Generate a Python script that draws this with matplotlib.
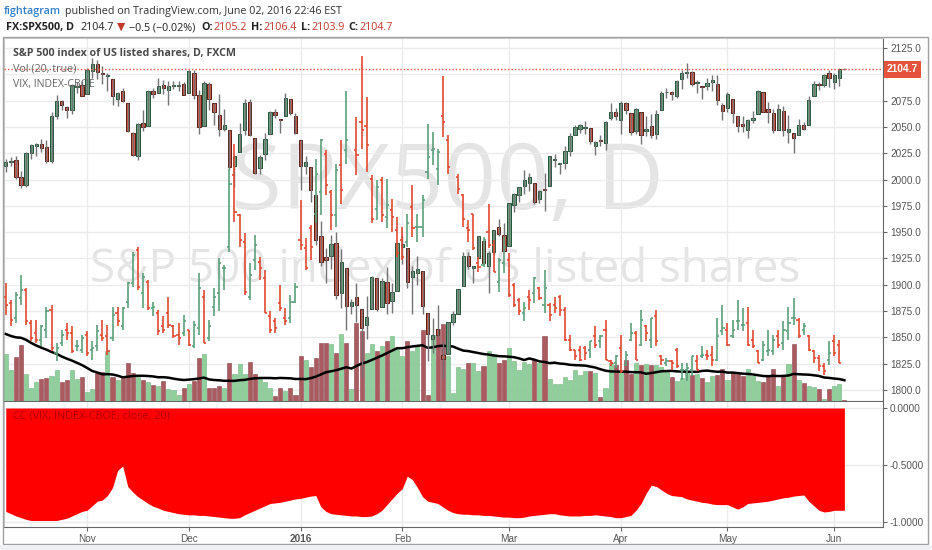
import numpy as np
import pandas as pd
import matplotlib
matplotlib.use('Agg')
import matplotlib.pyplot as plt
from matplotlib.patches import Rectangle
from matplotlib.ticker import FuncFormatter

plt.rcParams['font.family'] = ['Open Sans', 'DejaVu Sans']

nan = float('nan')

# FXCM daily bars: Jan 18 and Feb 15 trade on FXCM, last bar is the live Jun 3 session
holidays = ['2015-11-26', '2015-12-25', '2016-01-01', '2016-03-25', '2016-05-30']
dates = pd.bdate_range('2015-10-09', '2016-06-03').drop(pd.to_datetime(holidays))

spx_open = [
    2013, 2017, 2019, 2002, 1995, 2025, 2032, 2034, 2031, 2018, 2060, 2075, 2069, 2066, 2088, 2090,
    2081, 2103, 2110, 2101, 2098, 2096, 2077, 2084, 2073, 2044, 2022, 2054, 2051, 2084, 2082, 2090, 2085, 2089, 2089, 2091,
    2082, 2101, 2080, 2051, 2091, 2073, 2061, 2048, 2047, 2013, 2026, 2047, 2074, 2040, 2011, 2024, 2043, 2064, 2058, 2060, 2077, 2060,
    2038, 2013, 2012, 1985, 1946, 1926, 1927, 1940, 1892, 1916, 1880, 1888, 1877, 1862, 1877, 1906, 1879, 1903, 1885, 1894,
    1936, 1935, 1907, 1911, 1913, 1873, 1848, 1858, 1833, 1834, 1865, 1872, 1899, 1927, 1916, 1925, 1942, 1918, 1931, 1955, 1947,
    1937, 1976, 1985, 1994, 1997, 1997, 1982, 1991, 1994, 2019, 2015, 2016, 2027, 2042, 2048, 2049, 2049, 2032, 2038, 2035, 2059, 2064,
    2057, 2073, 2063, 2046, 2064, 2046, 2051, 2043, 2066, 2083, 2083, 2079, 2096, 2101, 2102, 2092, 2089, 2089, 2093, 2091, 2071,
    2068, 2077, 2060, 2053, 2047, 2057, 2062, 2083, 2067, 2063, 2047, 2065, 2045, 2044, 2042, 2052, 2052, 2079, 2091, 2090, 2101,
    2093, 2097, 2105.2]
spx_high = [
    2020, 2021, 2022, 2008, 2026, 2034, 2035, 2039, 2038, 2064, 2080, 2076, 2070, 2091, 2093, 2094,
    2106, 2116, 2114, 2108, 2101, 2096, 2083, 2087, 2073, 2045, 2054, 2066, 2085, 2087, 2097, 2095, 2094, 2094, 2094, 2093,
    2104, 2104, 2085, 2094, 2093, 2073, 2081, 2067, 2047, 2022, 2054, 2077, 2077, 2040, 2023, 2044, 2065, 2067, 2058, 2082, 2077, 2063,
    2038, 2022, 2012, 1985, 1961, 1935, 1947, 1950, 1934, 1916, 1886, 1902, 1877, 1889, 1908, 1906, 1906, 1917, 1902, 1940,
    1947, 1935, 1918, 1927, 1913, 1873, 1868, 1881, 1847, 1865, 1875, 1896, 1931, 1931, 1918, 1946, 1942, 1932, 1952, 1963, 1959,
    1978, 1987, 1993, 2009, 2006, 1997, 1990, 2006, 2022, 2024, 2016, 2032, 2044, 2052, 2053, 2056, 2049, 2037, 2042, 2056, 2073, 2068,
    2075, 2074, 2063, 2068, 2064, 2060, 2062, 2066, 2084, 2087, 2084, 2095, 2104, 2111, 2103, 2095, 2089, 2097, 2099, 2099, 2073,
    2083, 2077, 2060, 2060, 2058, 2065, 2085, 2083, 2074, 2067, 2072, 2070, 2061, 2044, 2058, 2055, 2079, 2094, 2093, 2100, 2104,
    2101, 2106, 2106.4]
spx_low = [
    2007, 2013, 2001, 1992, 1993, 2020, 2022, 2026, 2016, 2016, 2058, 2066, 2059, 2062, 2082, 2079,
    2081, 2097, 2096, 2091, 2084, 2071, 2070, 2074, 2045, 2022, 2019, 2046, 2051, 2078, 2082, 2081, 2071, 2086, 2084, 2080,
    2082, 2077, 2043, 2051, 2066, 2052, 2041, 2046, 2009, 1993, 2026, 2042, 2041, 2005, 2005, 2019, 2043, 2059, 2044, 2060, 2061, 2043,
    1990, 2005, 1979, 1938, 1918, 1902, 1915, 1886, 1878, 1857, 1872, 1865, 1812, 1848, 1877, 1875, 1879, 1872, 1873, 1894,
    1920, 1897, 1872, 1900, 1872, 1828, 1835, 1850, 1810, 1834, 1862, 1872, 1899, 1915, 1902, 1925, 1920, 1892, 1928, 1946, 1932,
    1937, 1969, 1979, 1986, 1989, 1977, 1978, 1970, 1994, 2012, 2005, 2010, 2022, 2042, 2044, 2043, 2034, 2023, 2032, 2028, 2057, 2057,
    2043, 2062, 2042, 2043, 2034, 2041, 2040, 2039, 2066, 2078, 2076, 2078, 2086, 2097, 2089, 2082, 2077, 2085, 2084, 2071, 2057,
    2064, 2054, 2045, 2045, 2040, 2054, 2062, 2064, 2054, 2044, 2047, 2041, 2035, 2025, 2042, 2047, 2052, 2079, 2085, 2088, 2088,
    2086, 2089, 2103.9]
spx_close = [
    2017, 2018, 2002, 1995, 2025, 2033, 2034, 2030, 2018, 2060, 2075, 2071, 2066, 2090, 2089, 2079,
    2104, 2110, 2102, 2100, 2099, 2079, 2082, 2075, 2046, 2023, 2053, 2050, 2084, 2081, 2089, 2087, 2089, 2089, 2090, 2080,
    2103, 2080, 2050, 2092, 2077, 2064, 2048, 2052, 2012, 2022, 2043, 2073, 2042, 2006, 2021, 2039, 2064, 2061, 2057, 2078, 2063, 2044,
    2013, 2017, 1990, 1943, 1922, 1924, 1939, 1890, 1922, 1880, 1884, 1881, 1859, 1869, 1907, 1877, 1904, 1883, 1893, 1940,
    1939, 1903, 1913, 1915, 1880, 1853, 1852, 1852, 1829, 1865, 1872, 1896, 1927, 1918, 1918, 1946, 1921, 1930, 1952, 1948, 1932,
    1978, 1986, 1993, 2000, 2002, 1979, 1989, 1990, 2022, 2020, 2016, 2027, 2041, 2050, 2052, 2050, 2037, 2036, 2037, 2055, 2064, 2060,
    2073, 2066, 2045, 2067, 2042, 2048, 2042, 2062, 2082, 2083, 2081, 2094, 2101, 2102, 2091, 2092, 2088, 2092, 2095, 2076, 2065,
    2081, 2063, 2051, 2051, 2057, 2059, 2084, 2064, 2064, 2047, 2067, 2047, 2048, 2040, 2052, 2048, 2076, 2091, 2090, 2099, 2097,
    2099, 2105.2, 2104.7]

vix_open = [
    17.6, 17.2, 16.3, 17.5, 18.0, 16.0, 15.4, 15.0, 15.6, 16.8, 14.2, 14.8, 15.6, 15.4, 14.6, 14.4,
    15.3, 14.4, 14.6, 15.3, 15.2, 15.1, 16.6, 15.8, 17.3, 18.4, 20.4, 17.8, 18.5, 16.9, 16.6, 15.8, 16.6, 15.8, 15.3, 15.4,
    15.6, 14.6, 15.7, 17.6, 15.1, 17.0, 17.8, 19.3, 20.6, 24.9, 22.5, 20.9, 17.6, 19.8, 19.7, 18.7, 16.4, 16.1, 17.2, 16.3, 16.3, 17.3,
    21.0, 20.5, 21.7, 22.6, 23.9, 26.2, 23.9, 22.5, 25.5, 26.4, nan, 26.4, 28.1, 27.9, 24.7, 22.9, 24.6, 22.4, 22.8, 21.6,
    21.0, 20.9, 23.0, 21.8, 21.8, 25.1, 26.4, 25.3, 28.5, 27.0, nan, 24.8, 23.7, 21.7, 22.6, 19.6, 19.5, 21.5, 20.7, 18.5, 19.6,
    19.8, 18.3, 17.4, 16.6, 17.6, 17.8, 18.1, 17.1, 17.1, 17.1, 17.6, 16.8, 15.0, 14.4, 14.4, 14.5, 14.4, 15.2, 14.9, 15.6, 13.7, 13.6,
    14.5, 13.5, 15.0, 15.4, 14.7, 15.8, 15.0, 16.4, 14.0, 13.6, 13.7, 14.4, 13.2, 13.2, 13.2, 13.7, 14.0, 14.1, 14.1, 13.8, 15.5,
    15.6, 15.2, 16.1, 15.9, 16.0, 15.0, 14.3, 13.8, 14.3, 14.3, 15.2, 14.8, 15.5, 16.3, 16.2, 15.6, 15.2, 14.3, 13.9, 13.4, 13.8,
    14.9, 14.7, nan]
vix_high = [
    18.4, 17.4, 17.9, 18.9, 18.1, 16.2, 16.2, 15.9, 17.0, 17.1, 14.8, 15.6, 16.0, 15.8, 15.0, 15.3,
    15.5, 14.9, 15.9, 16.2, 15.9, 17.0, 17.0, 17.0, 18.5, 20.3, 20.6, 19.0, 18.6, 17.3, 16.8, 16.4, 17.6, 15.9, 16.0, 16.5,
    15.6, 16.1, 19.0, 18.0, 16.2, 18.1, 19.9, 19.5, 25.3, 26.8, 22.6, 21.4, 19.6, 21.3, 20.0, 19.2, 16.7, 16.3, 18.3, 16.9, 17.7, 18.4,
    23.4, 21.1, 21.9, 25.9, 27.1, 26.4, 24.0, 25.6, 27.0, 30.0, nan, 28.4, 32.1, 29.6, 24.9, 24.6, 24.8, 24.7, 23.5, 22.4,
    21.8, 22.6, 24.3, 22.6, 23.7, 28.0, 27.5, 26.5, 30.9, 27.3, nan, 25.0, 23.8, 22.2, 22.6, 20.0, 21.2, 23.2, 21.0, 19.9, 21.2,
    20.2, 18.4, 17.5, 17.3, 18.0, 18.8, 18.2, 19.2, 17.2, 17.6, 17.7, 17.0, 15.3, 14.4, 14.6, 14.6, 14.9, 15.8, 15.3, 16.2, 13.8, 14.1,
    15.3, 14.3, 16.0, 15.5, 16.8, 15.9, 16.3, 16.8, 14.1, 13.9, 13.8, 14.5, 13.6, 13.6, 14.0, 14.1, 14.6, 14.4, 14.6, 16.3, 17.1,
    16.0, 16.2, 17.4, 16.9, 17.0, 15.6, 14.4, 14.9, 15.6, 15.3, 15.6, 16.1, 17.0, 17.5, 16.3, 16.0, 15.3, 14.4, 14.1, 13.6, 14.9,
    15.3, 15.0, nan]
vix_low = [
    16.5, 15.8, 16.0, 17.1, 15.9, 14.9, 14.8, 14.6, 15.1, 14.3, 13.7, 14.6, 15.0, 14.2, 14.3, 14.2,
    14.0, 13.8, 14.3, 14.9, 14.1, 14.9, 15.8, 15.6, 16.9, 18.2, 18.0, 16.9, 16.8, 16.4, 15.3, 15.4, 15.7, 15.1, 14.7, 15.2,
    14.6, 14.5, 15.3, 14.8, 14.9, 16.4, 16.7, 18.0, 20.3, 22.1, 20.6, 17.7, 17.4, 19.2, 18.6, 16.6, 15.4, 15.4, 16.7, 15.9, 16.0, 17.2,
    20.4, 19.2, 19.8, 22.0, 22.5, 23.7, 21.6, 21.8, 23.2, 25.6, nan, 24.9, 26.5, 25.1, 22.0, 22.2, 22.1, 21.7, 21.5, 20.0,
    19.8, 20.6, 21.2, 20.9, 21.2, 24.7, 25.5, 24.3, 27.2, 25.0, nan, 23.8, 21.8, 20.9, 20.4, 19.1, 19.4, 20.5, 19.1, 17.9, 19.0,
    17.6, 17.0, 16.5, 16.1, 16.8, 17.2, 17.4, 16.6, 16.1, 16.6, 16.4, 14.9, 14.3, 13.8, 13.7, 13.8, 13.9, 14.5, 14.5, 13.8, 13.4, 13.3,
    13.0, 13.4, 14.9, 13.8, 14.6, 14.9, 14.5, 14.6, 13.5, 13.4, 13.2, 13.3, 12.6, 12.5, 12.8, 13.2, 13.9, 13.8, 13.4, 13.7, 15.3,
    14.6, 15.1, 15.6, 15.5, 14.6, 14.5, 13.6, 13.7, 14.0, 14.1, 14.5, 14.4, 15.0, 15.9, 15.1, 15.3, 14.3, 13.6, 13.1, 12.9, 13.5,
    14.0, 13.6, nan]
vix_close = [
    17.1, 16.2, 17.7, 18.0, 16.1, 15.1, 15.0, 15.8, 16.7, 14.5, 14.5, 15.3, 15.4, 14.3, 14.6, 15.1,
    14.2, 14.5, 15.5, 15.1, 14.3, 16.5, 16.1, 16.9, 18.4, 20.1, 18.2, 18.8, 16.9, 17.0, 15.5, 15.6, 15.9, 15.2, 15.1, 16.1,
    14.7, 15.9, 18.1, 14.8, 15.8, 17.6, 19.6, 19.3, 24.4, 22.7, 21.0, 17.9, 18.9, 20.7, 19.3, 16.6, 15.6, 15.7, 16.9, 16.1, 17.3, 18.2,
    20.7, 19.3, 20.6, 25.0, 27.0, 24.3, 22.5, 25.2, 24.0, 27.0, nan, 26.1, 27.6, 26.7, 22.3, 24.2, 22.5, 23.1, 22.4, 20.2,
    20.0, 22.0, 21.7, 21.8, 23.4, 26.0, 26.5, 26.3, 28.1, 25.4, nan, 24.1, 22.3, 21.6, 20.5, 19.4, 21.0, 20.7, 19.1, 19.8, 20.6,
    17.7, 17.1, 16.7, 16.9, 17.4, 18.7, 17.5, 18.1, 16.5, 16.9, 16.8, 15.0, 14.4, 14.0, 13.8, 14.2, 14.9, 14.7, 15.2, 13.8, 13.6, 14.0,
    13.1, 14.1, 15.4, 13.8, 16.2, 15.4, 16.3, 14.9, 13.8, 13.7, 13.6, 13.4, 13.2, 13.3, 14.0, 13.2, 14.1, 14.0, 13.8, 15.2, 15.7,
    14.7, 15.6, 16.1, 15.9, 14.7, 14.6, 13.6, 14.7, 14.4, 15.0, 14.7, 15.6, 16.0, 16.3, 15.2, 15.8, 14.4, 13.9, 13.4, 13.1, 14.2,
    14.2, 13.6, nan]

# volume (thousands of ticks), plus the 19 bars before the window for the 20-bar average
vol_pre = [70, 72, 65, 68, 75, 70, 66, 62, 71, 68, 73, 64, 69, 67, 70, 66, 72, 60, 65]
volume = [
    47, 31, 44, 56, 27, 13, 19, 22, 23, 25,
    31, 19, 21, 31, 22, 24, 9, 12, 29, 29,
    50, 24, 21, 23, 38, 28, 24, 21, 19, 16,
    15, 20, 12, 11, 6, 13, 17, 20, 43, 47,
    13, 13, 15, 13, 38, 27, 37, 27, 39, 27,
    22, 19, 13, 5, 13, 10, 13, 6, 45, 41,
    34, 43, 58, 58, 57, 48, 67, 58, 12, 78,
    70, 48, 57, 50, 55, 60, 65, 52, 45, 60,
    50, 55, 71, 6, 66, 72, 77, 45, 8, 34,
    32, 38, 38, 30, 35, 50, 47, 38, 41, 53,
    40, 31, 39, 37, 41, 38, 65, 22, 17, 17,
    24, 21, 31, 26, 30, 30, 28, 4, 13, 38,
    36, 29, 41, 27, 38, 36, 37, 36, 36, 34,
    29, 24, 20, 23, 29, 26, 27, 23, 19, 25,
    26, 32, 21, 28, 27, 25, 32, 25, 20, 19,
    25, 32, 15, 26, 37, 57, 21, 18, 15, 14,
    12, 2, 12, 15, 17, 1]

# correlation coefficient SPX vs VIX, 20 bars
cc = [
    -0.91, -0.93, -0.95, -0.965, -0.98, -0.99, -0.99, -0.99, -0.99, -0.99,
    -0.99, -0.98, -0.97, -0.95, -0.93, -0.91, -0.90, -0.86, -0.82, -0.81,
    -0.77, -0.70, -0.55, -0.51, -0.69, -0.74, -0.78, -0.81, -0.84, -0.865,
    -0.88, -0.90, -0.91, -0.92, -0.93, -0.935, -0.94, -0.94, -0.945, -0.945,
    -0.95, -0.955, -0.96, -0.965, -0.97, -0.97, -0.965, -0.94, -0.92, -0.90,
    -0.88, -0.86, -0.84, -0.835, -0.83, -0.82, -0.81, -0.80, -0.795, -0.785,
    -0.775, -0.77, -0.87, -0.91, -0.93, -0.935, -0.94, -0.945, -0.95, -0.95,
    -0.955, -0.955, -0.95, -0.93, -0.90, -0.85, -0.80, -0.75, -0.71, -0.60,
    -0.63, -0.70, -0.78, -0.82, -0.83, -0.84, -0.87, -0.90, -0.92, -0.93,
    -0.935, -0.935, -0.94, -0.94, -0.945, -0.945, -0.95, -0.955, -0.96, -0.96,
    -0.965, -0.965, -0.96, -0.95, -0.945, -0.94, -0.935, -0.93, -0.93, -0.94,
    -0.945, -0.95, -0.95, -0.95, -0.945, -0.945, -0.94, -0.945, -0.95, -0.955,
    -0.965, -0.965, -0.955, -0.945, -0.90, -0.84, -0.75, -0.68, -0.69, -0.72,
    -0.75, -0.77, -0.775, -0.78, -0.80, -0.81, -0.82, -0.83, -0.835, -0.845,
    -0.85, -0.85, -0.85, -0.87, -0.89, -0.87, -0.84, -0.835, -0.83, -0.825,
    -0.82, -0.81, -0.80, -0.79, -0.785, -0.775, -0.77, -0.765, -0.82, -0.86,
    -0.90, -0.915, -0.91, -0.90, -0.90, -0.90]

W, H = 932, 550
fig = plt.figure(figsize=(W / 100, H / 100), dpi=100)
fig.patch.set_facecolor('white')
r = fig.canvas.get_renderer()


def box(x0, y0, x1, y1):
    return [x0 / W, 1 - y1 / H, (x1 - x0) / W, (y1 - y0) / H]


def width(t):
    return t.get_window_extent(r).width


def fit(t, target):
    t.set_fontsize(t.get_fontsize() * target / width(t))


x = np.arange(len(dates))
o, h, l, c = map(np.array, (spx_open, spx_high, spx_low, spx_close))
vo, vh, vl, vc = map(np.array, (vix_open, vix_high, vix_low, vix_close))
up = c >= o

firsts = pd.Series(x, index=dates).groupby(dates.to_period('M')).first().iloc[1:]
month_pos = firsts.values
month_lab = [str(p.year) if p.month == 1 else p.strftime('%b') for p in firsts.index]

XL = (-0.35, 172.6)
grid_c = '#ebebeb'
txt_c = '#555555'

# ---- main pane
ax = fig.add_axes(box(4, 38, 883, 401))
ax.set_ylim(1789.5, 2134.6)
ax_vol = ax.twinx()
ax_c = ax.twinx()
ax_vix = ax.twinx()
ax.yaxis.tick_right()
ax.set_yticks(np.arange(1800, 2126, 25))
ax.yaxis.set_major_formatter(FuncFormatter(lambda v, p: f'{v:.1f}'))
ax.tick_params(axis='y', length=3, color='#666', labelsize=7.2, labelcolor=txt_c, pad=2,
               labelfontfamily='Liberation Sans')
ax.set_xticks(month_pos)
ax.tick_params(axis='x', length=0, labelbottom=False)
ax.grid(True, color=grid_c, lw=1)
ax.set_axisbelow(True)
for side, col in (('top', '#cfcfcf'), ('left', '#cfcfcf'), ('right', '#666'), ('bottom', '#666')):
    ax.spines[side].set_color(col)

for t in (ax_vol, ax_c, ax_vix):
    t.set_yticks([])
    for s in t.spines.values():
        s.set_visible(False)

# watermark
wm1 = ax.text(0.505, 0.595, 'SPX500, D', transform=ax.transAxes, ha='center', va='center',
              color='#e4e4e4', fontsize=60, zorder=0)
wm2 = ax.text(0.502, 0.361, 'S&P 500 index of US listed shares', transform=ax.transAxes,
              ha='center', va='center', color='#e4e4e4', fontsize=30, zorder=0)
fit(wm1, 433)
fit(wm2, 712)

# volume
ax_vol.set_ylim(0, 363)
ax_vol.bar(x, volume, width=0.8, color=np.where(up, '#8fcf9b', '#a95b60'),
           edgecolor=np.where(up, '#74b581', '#8c464b'), lw=0.4)
ma = pd.Series(vol_pre + volume).rolling(20).mean().to_numpy()[len(vol_pre):]
ax_vol.plot(x, ma, color='black', lw=1.8)

# candles
ax_c.set_ylim(ax.get_ylim())
ax_c.vlines(x, l, h, color='#737375', lw=1)
ax_c.bar(x, np.maximum(np.abs(c - o), 0.7), bottom=np.minimum(o, c), width=0.66,
         color=np.where(up, '#6ba583', '#d75442'), edgecolor=np.where(up, '#225437', '#5b1a13'), lw=0.7)
ax_c.axhline(c[-1], color='#e5533d', lw=1, ls=(0, (1, 1.5)))

# VIX bars
ax_vix.set_ylim(11.31, 33.17)
vcol = np.where(vc >= vo, '#5c9f7c', '#e2492f')
ax_vix.vlines(x, vl, vh, colors=vcol, lw=1.2)
ax_vix.hlines(vo, x - 0.42, x, colors=vcol, lw=1.2)
ax_vix.hlines(vc, x, x + 0.42, colors=vcol, lw=1.2)

ax.set_xlim(XL)

ax.text(1.0045, c[-1], f'{c[-1]:.1f}', transform=ax.get_yaxis_transform(), ha='left', va='center',
        color='white', fontsize=7.4, fontweight='bold', family='Liberation Sans', zorder=10, clip_on=False,
        bbox=dict(boxstyle='square,pad=0.32', fc='#e5533d', ec='none'))

# ---- correlation pane
axc = fig.add_axes(box(4, 402, 883, 527))
axc.set_xlim(XL)
axc.set_ylim(-1.047, 0.053)
axc.fill_between(x, 0, cc, color='#ff0000', lw=0, zorder=2)
axc.yaxis.tick_right()
axc.set_yticks([0, -0.5, -1.0])
axc.yaxis.set_major_formatter(FuncFormatter(lambda v, p: f'{v:.4f}'))
axc.tick_params(axis='y', length=3, color='#666', labelsize=7.2, labelcolor=txt_c, pad=2,
                labelfontfamily='Liberation Sans')
axc.set_xticks(month_pos)
axc.set_xticklabels(month_lab)
axc.tick_params(axis='x', length=3, color='#666', labelsize=7.2, labelcolor=txt_c, pad=2,
                labelfontfamily='Liberation Sans')
for lab in axc.get_xticklabels():
    if lab.get_text().isdigit():
        lab.set_fontweight('bold')
axc.grid(True, color=grid_c, lw=1)
axc.set_axisbelow(True)
axc.spines['top'].set_visible(False)
axc.spines['left'].set_color('#cfcfcf')
axc.spines['right'].set_color('#666')
axc.spines['bottom'].set_color('#666')

# ---- legends inside panes
leg = [(56, 'S&P 500 index of US listed shares, D, FXCM', '#4a4a4a', 'bold', 223),
       (71, 'Vol (20, true)', '#666', 'normal', 64),
       (87, 'VIX, INDEX-CBOE', '#666', 'normal', 82),
       (419, 'CC (VIX, INDEX-CBOE, close, 20)', '#b00000', 'normal', 157)]
for py, s, col, wt, tw in leg:
    fit(fig.text(13 / W, 1 - py / H, s, color=col, fontsize=8, fontweight=wt), tw)


# ---- header, pieces laid out left to right
def header_line(x0, y, pieces, total):
    ts = [fig.text(0, 1 - y / H, s, color=col, fontsize=9, fontweight=wt) for s, col, wt, gap in pieces]
    gaps = sum(p[3] for p in pieces[:-1])
    k = (total - gaps) / sum(width(t) for t in ts)
    px = x0
    for t, p in zip(ts, pieces):
        t.set_fontsize(9 * k)
        t.set_x(px / W)
        px += width(t) + p[3]


header_line(4, 14, [('fightagram', '#2f7fc8', 'semibold', 4),
                    ('published on TradingView.com, June 02, 2016 22:46 EST', '#333', 'normal', 0)], 342)

chg = c[-1] - c[-2]
red = '#c0392b'
header_line(6, 30, [
    ('FX:SPX500, D', '#222', 'bold', 6),
    (f'{c[-1]:.1f}', '#222', 'normal', 4),
    ('\u25bc', red, 'normal', 3),
    (f'\u2212{abs(chg):.1f} (\u2212{abs(chg) / c[-2] * 100:.2f}%)', '#222', 'normal', 6),
    ('O:', '#222', 'bold', 1), (f'{o[-1]:.1f}', red, 'normal', 4),
    ('H:', '#222', 'bold', 1), (f'{h[-1]:.1f}', red, 'normal', 4),
    ('L:', '#222', 'bold', 1), (f'{l[-1]:.1f}', red, 'normal', 4),
    ('C:', '#222', 'bold', 1), (f'{c[-1]:.1f}', red, 'normal', 0)], 390)

# ---- frame
fig.patches.append(Rectangle((3 / W, 1 - 544 / H), 925 / W, 507 / H, transform=fig.transFigure,
                             fill=False, ec='#a0a0a0', lw=1))
fig.patches.append(Rectangle((0, 0), 1, 5.5 / H, transform=fig.transFigure, fc='#eef0f3', ec='none'))

fig.savefig('out.png', dpi=100)
